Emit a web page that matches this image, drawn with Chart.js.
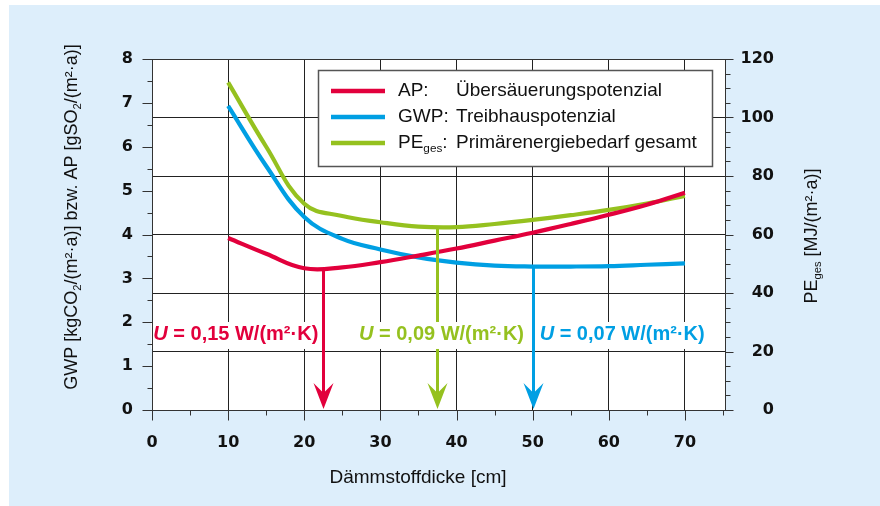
<!DOCTYPE html>
<html><head><meta charset="utf-8">
<script src="https://cdn.jsdelivr.net/npm/chart.js@4"></script>
<style>html,body{margin:0;padding:0;background:#fff;}#wrap{width:880px;height:506px;}</style>
</head><body><div id="wrap"><canvas id="c" width="880" height="506"></canvas></div>
<script>
// ---- data ----
const thickness   = [10, 15, 20, 25, 30, 35, 40, 45, 50, 55, 60, 65, 70];
const apValues    = [3.92, 3.56, 3.23, 3.25, 3.37, 3.52, 3.68, 3.86, 4.04, 4.24, 4.45, 4.68, 4.95];
const gwpValues   = [6.93, 5.56, 4.40, 3.90, 3.66, 3.48, 3.36, 3.29, 3.27, 3.27, 3.28, 3.31, 3.34];
const peValues    = [112, 90, 70.5, 66.3, 64.2, 62.7, 62.5, 63.6, 65, 66.6, 68.4, 70.6, 73.2];
const xTickValues     = [0, 10, 20, 30, 40, 50, 60, 70];
const leftTickValues  = [0, 1, 2, 3, 4, 5, 6, 7, 8];
const rightTickValues = [0, 20, 40, 60, 80, 100, 120];
const seriesNames = ['AP:', 'GWP:', 'PE'];
const seriesSubs  = ['', '', 'ges'];
const seriesDescriptions = ['Übersäuerungspotenzial', 'Treibhauspotenzial', 'Primärenergiebedarf gesamt'];
const optimumThickness = [22.5, 37.5, 50];
const optimumStart     = [3.2, 62.3, 3.27];
const optimumAxis      = ['y', 'y2', 'y'];
const optimumUValues   = ['0,15', '0,09', '0,07'];

const RED = '#e2003c', BLUE = '#009fe3', GREEN = '#95c11f';
const FONT = "'Liberation Sans', Arial, sans-serif";

function pts(vals){ return thickness.map((t,i)=>({x:t, y:vals[i]})); }

function drawRich(c, segs, size, weight){
  let x = 0;
  segs.forEach(s=>{
    const fs = s.sub ? size*0.62 : size;
    c.font = (s.italic?'italic ':'') + weight + ' ' + fs + 'px ' + FONT;
    c.fillText(s.t, x, s.sub ? size*0.32 : 0);
    x += c.measureText(s.t).width;
  });
  return x;
}
function richWidth(c, segs, size, weight){
  let w = 0;
  segs.forEach(s=>{
    const fs = s.sub ? size*0.62 : size;
    c.font = (s.italic?'italic ':'') + weight + ' ' + fs + 'px ' + FONT;
    w += c.measureText(s.t).width;
  });
  return w;
}
function drawRichCentered(c, segs, cx, cy, rot, size, weight, color){
  c.save();
  c.translate(cx, cy);
  c.rotate(rot);
  c.fillStyle = color;
  c.textBaseline = 'middle';
  c.textAlign = 'left';
  const w = richWidth(c, segs, size, weight);
  c.translate(-w/2, 0);
  drawRich(c, segs, size, weight);
  c.restore();
}

const bgPlugin = {
  id: 'bg',
  beforeDraw(chart){
    const c = chart.ctx, a = chart.chartArea;
    c.save();
    c.fillStyle = '#ffffff'; c.fillRect(0, 0, 880, 506);
    c.fillStyle = '#ddeefb'; c.fillRect(9, 5, 871, 501);
    c.fillStyle = '#ffffff'; c.fillRect(a.left, a.top, a.right - a.left, a.bottom - a.top);
    c.restore();
  }
};

const annotPlugin = {
  id: 'annot',
  afterDatasetsDraw(chart){
    const c = chart.ctx, xs = chart.scales.x, yl = chart.scales.y, yr = chart.scales.y2;
    const tip = yl.getPixelForValue(0);
    const arrowColors = [RED, GREEN, BLUE];
    optimumThickness.forEach((t, i) => {
      const sc = optimumAxis[i] === 'y2' ? yr : yl;
      const px = Math.round(xs.getPixelForValue(t)) + 0.5;
      const top = sc.getPixelForValue(optimumStart[i]);
      c.save();
      c.strokeStyle = arrowColors[i];
      c.fillStyle = arrowColors[i];
      c.lineWidth = 3;
      c.beginPath(); c.moveTo(px, top); c.lineTo(px, tip - 14); c.stroke();
      c.beginPath();
      c.moveTo(px, tip - 1);
      c.lineTo(px - 10, tip - 27);
      c.lineTo(px, tip - 17);
      c.lineTo(px + 10, tip - 27);
      c.closePath(); c.fill();
      c.restore();
    });
    const ly = yl.getPixelForValue(1.71);
    const size = 20, weight = 'bold';
    optimumThickness.forEach((t, i) => {
      const segs = [{t:'U', italic:true}, {t:' = ' + optimumUValues[i] + ' W/(m²·K)'}];
      const w = richWidth(c, segs, size, weight);
      const px = xs.getPixelForValue(t);
      let x0;
      if (i === 0) x0 = px - 5 - w;
      else if (i === 1) x0 = px + 4 - w/2;
      else x0 = px + 7;
      c.save();
      c.fillStyle = '#ffffff';
      c.fillRect(x0 - 2, ly - 13, w + 4, 27);
      c.fillStyle = arrowColors[i];
      c.textBaseline = 'middle';
      c.translate(x0, ly);
      drawRich(c, segs, size, weight);
      c.restore();
    });
  },
  afterDraw(chart){
    const c = chart.ctx, a = chart.chartArea, xs = chart.scales.x, yl = chart.scales.y, yr = chart.scales.y2;
    c.save();
    c.strokeStyle = '#333'; c.lineWidth = 1;
    const L = Math.round(a.left) + 0.5, R = Math.round(a.right) - 0.5, T = Math.round(a.top) + 0.5, B = Math.round(a.bottom) + 0.5;
    c.strokeRect(L, T, R - L, B - T);
    c.beginPath();
    for (let v = 0; v <= 75; v += 5) {
      const px = Math.round(xs.getPixelForValue(v)) + 0.5;
      c.moveTo(px, B); c.lineTo(px, B + (v % 10 === 0 ? 10 : 5));
    }
    for (let v = 0; v <= 8; v += 0.5) {
      const py = Math.round(yl.getPixelForValue(v)) + 0.5;
      c.moveTo(L, py); c.lineTo(L - (v % 1 === 0 ? 10 : 5), py);
    }
    for (let v = 0; v <= 120; v += 5) {
      const py = Math.round(yr.getPixelForValue(v)) + 0.5;
      c.moveTo(R, py); c.lineTo(R + (v % 20 === 0 ? 8 : 5), py);
    }
    c.stroke();
    c.restore();

    drawRichCentered(c, [{t:'Dämmstoffdicke [cm]'}], 418, 478, 0, 19, 'normal', '#111');
    drawRichCentered(c, [{t:'GWP [kgCO'},{t:'2',sub:true},{t:'/(m²·a)] bzw. AP [gSO'},{t:'2',sub:true},{t:'/(m²·a)]'}], 72, 217, -Math.PI/2, 18, 'normal', '#111');
    drawRichCentered(c, [{t:'PE'},{t:'ges',sub:true},{t:' [MJ/(m²·a)]'}], 812, 236, -Math.PI/2, 18, 'normal', '#111');

    c.save();
    c.fillStyle = '#fff';
    c.fillRect(318.5, 70.5, 394, 96);
    c.strokeStyle = '#555'; c.lineWidth = 1.5;
    c.strokeRect(318.5, 70.5, 394, 96);
    const rows = [91, 117, 143];
    [0, 1, 2].forEach((d, i) => {
      const ds = chart.data.datasets[d];
      c.strokeStyle = ds.borderColor; c.lineWidth = 4.5;
      c.beginPath(); c.moveTo(331, rows[i]); c.lineTo(385, rows[i]); c.stroke();
      c.fillStyle = '#111'; c.textBaseline = 'middle';
      c.save(); c.translate(398, rows[i]);
      const segs = seriesSubs[i] ? [{t:seriesNames[i]},{t:seriesSubs[i],sub:true},{t:':'}] : [{t:seriesNames[i]}];
      drawRich(c, segs, 19, 'normal');
      c.restore();
      c.font = 'normal 19px ' + FONT;
      c.fillText(seriesDescriptions[i], 456, rows[i]);
    });
    c.restore();
  }
};

const tickFont = {family: "'DejaVu Sans', sans-serif", size: 16, weight: 'bold'};

new Chart(document.getElementById('c'), {
  type: 'line',
  data: {
    datasets: [
      {label: 'AP', data: pts(apValues), borderColor: RED, yAxisID: 'y'},
      {label: 'GWP', data: pts(gwpValues), borderColor: BLUE, yAxisID: 'y'},
      {label: 'PE', data: pts(peValues), borderColor: GREEN, yAxisID: 'y2'}
    ]
  },
  options: {
    responsive: false,
    animation: false,
    devicePixelRatio: 1,
    layout: {padding: {top: 59, left: 0, right: 106, bottom: 0}},
    elements: {
      line: {borderWidth: 4.2, tension: 0.4, fill: false, borderCapStyle: 'butt'},
      point: {radius: 0}
    },
    plugins: {legend: {display: false}, tooltip: {enabled: false}, title: {display: false}},
    scales: {
      x: {
        type: 'linear', min: 0, max: 75.4,
        afterBuildTicks: s => { s.ticks = xTickValues.map(v => ({value: v})); },
        afterFit: s => { s.height = 96; },
        grid: {drawTicks: false, color: '#222', lineWidth: 1},
        border: {display: false},
        ticks: {padding: 23, color: '#111', font: tickFont, maxRotation: 0}
      },
      y: {
        position: 'left', min: 0, max: 8,
        afterBuildTicks: s => { s.ticks = leftTickValues.map(v => ({value: v})); },
        afterFit: s => { s.width = 152; },
        grid: {display: false, drawTicks: false},
        border: {display: false},
        ticks: {padding: 19, color: '#111', font: tickFont}
      },
      y2: {
        position: 'right', min: 0, max: 120,
        afterBuildTicks: s => { s.ticks = rightTickValues.map(v => ({value: v})); },
        afterFit: s => { s.width = 48; },
        grid: {drawTicks: false, color: '#222', lineWidth: 1},
        border: {display: false},
        ticks: {padding: 14, color: '#111', font: tickFont, crossAlign: 'far'}
      }
    }
  },
  plugins: [bgPlugin, annotPlugin]
});
</script></body></html>
